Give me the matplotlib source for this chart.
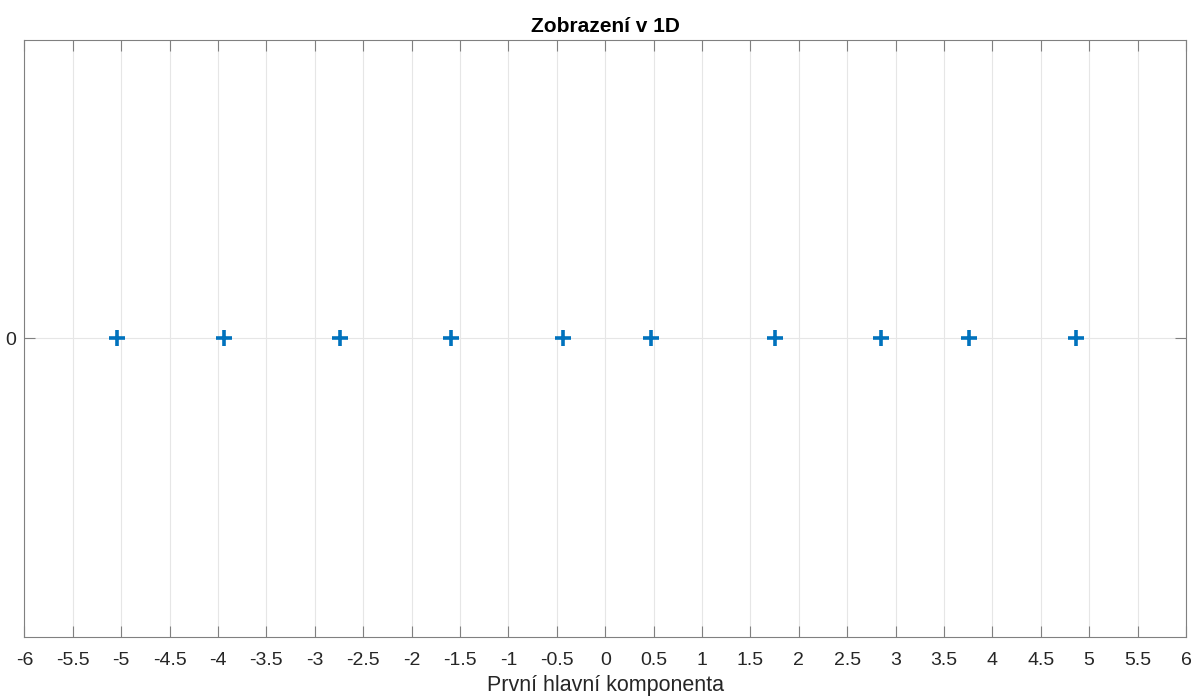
import numpy as np
import matplotlib.pyplot as plt

plt.rcParams['font.family'] = ['Liberation Sans', 'DejaVu Sans']

# first principal component scores
pc1 = [-5.04, -3.94, -2.74, -1.59, -0.44, 0.47, 1.75, 2.85, 3.76, 4.86]
x_ticks = np.arange(-6, 6.01, 0.5)
x_labels = ['%g' % t for t in x_ticks]

fig = plt.figure(figsize=(11.93, 6.96), dpi=100)
ax = fig.add_axes([0.0205, 0.0848, 0.9736, 0.8577])

ax.plot(pc1, np.zeros(len(pc1)), '+', color='#0072BD', markersize=11, mew=2.6, zorder=3)

ax.set_xlim(-6, 6)
ax.set_ylim(-1, 1)
ax.set_xticks(x_ticks)
ax.set_xticklabels(x_labels)
ax.set_yticks([0])
ax.set_yticklabels(['0'])

ax.grid(True, color='#e6e6e6', linewidth=0.8, zorder=0)
ax.set_axisbelow(True)
for s in ax.spines.values():
    s.set_color('#808080')
    s.set_linewidth(0.8)
ax.tick_params(axis='both', direction='in', length=8, width=0.8, color='#808080',
               labelsize=14, labelcolor='#262626', top=True, right=True, pad=6)
ax.tick_params(axis='x', pad=11)

ax.set_title('Zobrazení v 1D', fontsize=15, fontweight='bold', pad=6)
ax.set_xlabel('První hlavní komponenta', fontsize=15.5, color='#262626', labelpad=4)

fig.savefig('out.png', dpi=100)
